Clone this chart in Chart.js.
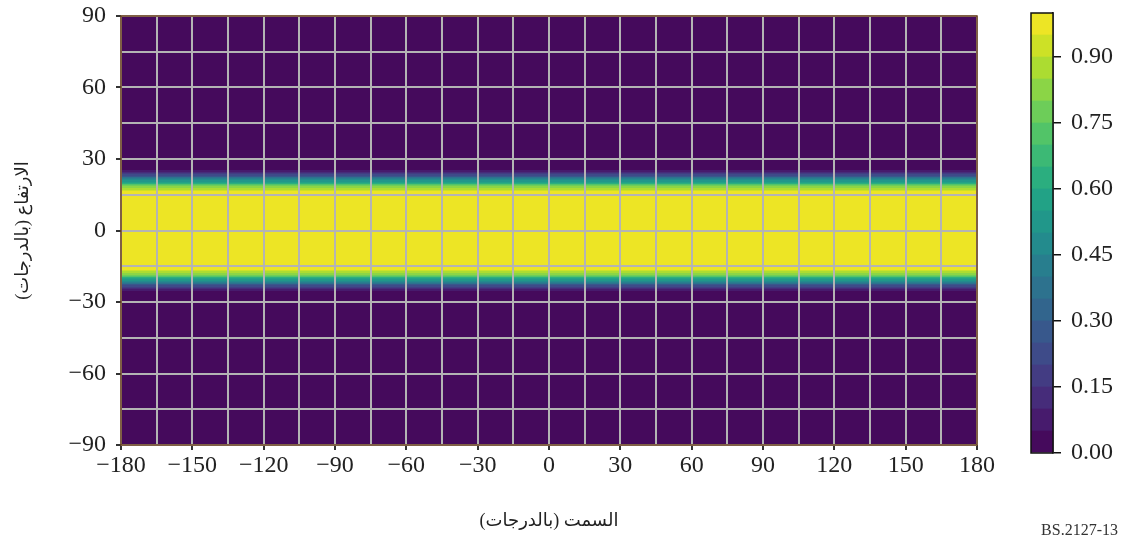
<!DOCTYPE html>
<html>
<head>
<meta charset="utf-8">
<script src="https://cdn.jsdelivr.net/npm/chart.js@4.4.1/dist/chart.umd.min.js"></script>
<style>
  html, body { margin: 0; padding: 0; background: #fff; }
  #wrap { position: relative; width: 1126px; height: 544px; overflow: hidden; }
  #main { position: absolute; left: 0; top: 0; }
  #cbar { position: absolute; left: 1000px; top: 0; }
</style>
</head>
<body>
<div id="wrap">
  <canvas id="main" width="1126" height="544"></canvas>
  <canvas id="cbar" width="126" height="470"></canvas>
</div>
<script>
// Axis ranges and labelled ticks
const azimuthRange = [-180, 180];
const elevationRange = [-90, 90];
const azimuthTicks = [-180, -150, -120, -90, -60, -30, 0, 30, 60, 90, 120, 150, 180];
const elevationTicks = [-90, -60, -30, 0, 30, 60, 90];
const gridStep = 15;

// Elevation rows (edges, degrees) and the value in each row; same across all azimuths
const rowEdges = [
  -90, -26.5, -26, -25.5, -25, -24.5, -24, -23.5, -23, -22.5, -22, -21.5, -21,
  -20.5, -20, -19.5, -19, -18.5, -18, -17.5, -17, -16.5, -16, -15.5, -15,
  15, 15.5, 16, 16.5, 17, 17.5, 18, 18.5, 19, 19.5, 20, 20.5, 21, 21.5, 22,
  22.5, 23, 23.5, 24, 24.5, 25, 25.5, 26, 26.5, 90
];
const rowValues = [
  0.00,
  0.01, 0.03, 0.05, 0.09, 0.13, 0.18, 0.23, 0.29, 0.35, 0.41, 0.47, 0.52,
  0.58, 0.64, 0.70, 0.75, 0.80, 0.85, 0.89, 0.92, 0.95, 0.97, 0.99,
  1.00,
  0.99, 0.97, 0.95, 0.92, 0.89, 0.85, 0.80, 0.75, 0.70, 0.64, 0.58, 0.52,
  0.47, 0.41, 0.35, 0.29, 0.23, 0.18, 0.13, 0.09, 0.05, 0.03, 0.01,
  0.00
];

// Contour levels shown on the colour bar
const colorLevels = [0, 0.05, 0.1, 0.15, 0.2, 0.25, 0.3, 0.35, 0.4, 0.45, 0.5,
  0.55, 0.6, 0.65, 0.7, 0.75, 0.8, 0.85, 0.9, 0.95, 1.0];
const colorbarTicks = [0, 0.15, 0.30, 0.45, 0.60, 0.75, 0.90];

const xTitle = "السمت (بالدرجات)\u200F";
const yTitle = "الارتفاع (بالدرجات)\u200F";
const figureId = "BS.2127-13";

// viridis anchors
const viridis = ["#440154", "#482475", "#414487", "#355f8d", "#2a788e", "#21918c",
  "#22a884", "#44bf70", "#7ad151", "#bddf26", "#fde725"];

function hexRgb(h) {
  return [parseInt(h.slice(1, 3), 16), parseInt(h.slice(3, 5), 16), parseInt(h.slice(5, 7), 16)];
}

function viridisAt(t) {
  t = Math.max(0, Math.min(1, t));
  const p = t * (viridis.length - 1);
  const i = Math.min(viridis.length - 2, Math.floor(p));
  const f = p - i;
  const a = hexRgb(viridis[i]), b = hexRgb(viridis[i + 1]);
  const c = a.map((v, k) => Math.round(v + (b[k] - v) * f));
  return `rgb(${c[0]},${c[1]},${c[2]})`;
}

const nLevels = colorLevels.length - 1;

function levelIndex(v) {
  for (let i = nLevels - 1; i >= 0; i--) {
    if (v >= colorLevels[i]) return i;
  }
  return 0;
}

function levelColor(i) {
  return viridisAt((i + 0.5) / nLevels);
}

function fmtNum(v) {
  return v < 0 ? "\u2212" + Math.abs(v) : String(v);
}

Chart.defaults.font.family = "'Liberation Serif', 'DejaVu Sans', serif";
Chart.defaults.color = "#222";

const heatmapPlugin = {
  id: "heatmap",
  beforeDatasetsDraw(chart) {
    const { ctx, scales: { x, y } } = chart;
    const left = Math.round(x.getPixelForValue(azimuthRange[0]));
    const right = Math.round(x.getPixelForValue(azimuthRange[1]));
    ctx.save();
    for (let i = 0; i < rowValues.length; i++) {
      const top = Math.round(y.getPixelForValue(rowEdges[i + 1]));
      const bottom = Math.round(y.getPixelForValue(rowEdges[i]));
      if (bottom <= top) continue;
      ctx.fillStyle = levelColor(levelIndex(rowValues[i]));
      ctx.fillRect(left, top, right - left, bottom - top);
    }
    ctx.restore();
  },
  afterDraw(chart) {
    const { ctx, chartArea: a } = chart;
    ctx.save();
    ctx.strokeStyle = "#6e4320";
    ctx.lineWidth = 1.5;
    ctx.strokeRect(a.left, a.top, a.right - a.left, a.bottom - a.top);
    ctx.fillStyle = "#333";
    ctx.font = "16px 'Liberation Serif', serif";
    ctx.textAlign = "right";
    ctx.textBaseline = "middle";
    ctx.fillText(figureId, 1118, 531);
    ctx.restore();
  }
};

function tickMarkColor(list) {
  return ctx => (ctx.tick && list.includes(ctx.tick.value)) ? "#333" : "rgba(0,0,0,0)";
}

new Chart(document.getElementById("main"), {
  type: "scatter",
  data: { datasets: [] },
  options: {
    responsive: false,
    animation: false,
    layout: { padding: { left: 0, top: 16, right: 149, bottom: 0 } },
    plugins: { legend: { display: false }, tooltip: { enabled: false } },
    scales: {
      x: {
        type: "linear",
        min: azimuthRange[0],
        max: azimuthRange[1],
        afterFit(s) { s.height = 99; s.paddingLeft = 0; s.paddingRight = 0; },
        ticks: {
          stepSize: gridStep,
          autoSkip: false,
          maxRotation: 0,
          padding: 1,
          font: { size: 24 },
          callback: v => azimuthTicks.includes(v) ? fmtNum(v) : ""
        },
        grid: {
          z: 1,
          color: "#b4b4b4",
          lineWidth: 2,
          tickLength: 5,
          tickColor: tickMarkColor(azimuthTicks)
        },
        border: { display: false },
        title: {
          display: true,
          text: xTitle,
          font: { size: 18 },
          padding: { top: 0, bottom: 12 }
        }
      },
      y: {
        type: "linear",
        min: elevationRange[0],
        max: elevationRange[1],
        afterFit(s) { s.width = 121; s.paddingTop = 0; s.paddingBottom = 0; },
        ticks: {
          stepSize: gridStep,
          autoSkip: false,
          padding: 10,
          font: { size: 24 },
          callback: v => elevationTicks.includes(v) ? fmtNum(v) : ""
        },
        grid: {
          z: 1,
          color: "#b4b4b4",
          lineWidth: 2,
          tickLength: 5,
          tickColor: tickMarkColor(elevationTicks)
        },
        border: { display: false },
        title: {
          display: true,
          text: yTitle,
          font: { size: 18 },
          padding: { top: 12, bottom: 0 }
        }
      }
    }
  },
  plugins: [heatmapPlugin]
});

const frameCbar = {
  id: "frameCbar",
  afterDraw(chart) {
    const { ctx, chartArea: a } = chart;
    ctx.save();
    ctx.strokeStyle = "#111";
    ctx.lineWidth = 1.5;
    ctx.strokeRect(a.left, a.top, a.right - a.left, a.bottom - a.top);
    ctx.restore();
  }
};

new Chart(document.getElementById("cbar"), {
  type: "bar",
  data: {
    labels: [""],
    datasets: colorLevels.slice(0, -1).map((lv, i) => ({
      data: [colorLevels[i + 1] - lv],
      backgroundColor: levelColor(i),
      borderWidth: 0,
      barPercentage: 1,
      categoryPercentage: 1
    }))
  },
  options: {
    responsive: false,
    animation: false,
    layout: { padding: { left: 31, top: 13, right: 0, bottom: 17 } },
    plugins: { legend: { display: false }, tooltip: { enabled: false } },
    scales: {
      x: { display: false, stacked: true },
      y: {
        stacked: true,
        position: "right",
        min: 0,
        max: 1,
        afterFit(s) { s.width = 73; s.paddingTop = 0; s.paddingBottom = 0; },
        afterBuildTicks(s) { s.ticks = colorbarTicks.map(v => ({ value: v })); },
        ticks: {
          padding: 10,
          font: { size: 24 },
          callback: v => v.toFixed(2)
        },
        grid: {
          drawOnChartArea: false,
          tickLength: 8,
          tickColor: "#111",
          lineWidth: 1.5
        },
        border: { display: true, color: "#111", width: 1.5 }
      }
    }
  },
  plugins: [frameCbar]
});
</script>
</body>
</html>
